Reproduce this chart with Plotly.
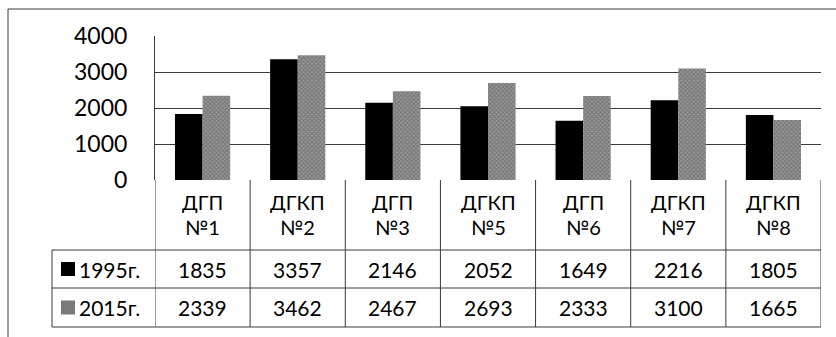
import plotly.graph_objects as go

# Hospitals (categories) and the two year series
names = ["ДГП", "ДГКП", "ДГП", "ДГКП", "ДГП", "ДГКП", "ДГКП"]
numbers = ["№1", "№2", "№3", "№5", "№6", "№7", "№8"]
series_names = ["1995г.", "2015г."]
values_1995 = [1835, 3357, 2146, 2052, 1649, 2216, 1805]
values_2015 = [2339, 3462, 2467, 2693, 2333, 3100, 1665]
y_ticks = [0, 1000, 2000, 3000, 4000]

categories = [f"{n} {k}" for n, k in zip(names, numbers)]

FONT = "Lato, 'Open Sans', Arial, sans-serif"
LINE = "#3a3a3a"
GRAY = "#7a7a7a"
TEXT = "#000000"
TABLE_SIZE = 21
HEADER_SIZE = 20

fig = go.Figure()
fig.add_trace(go.Bar(
    x=categories, y=values_1995, name=series_names[0],
    marker=dict(color="#000000", line=dict(width=0)),
))
fig.add_trace(go.Bar(
    x=categories, y=values_2015, name=series_names[1],
    marker=dict(
        color="#808080",
        line=dict(width=0),
        pattern=dict(shape="x", fgcolor="#4a4a4a", bgcolor="#999999",
                     size=3, solidity=0.5),
    ),
))

# plot area spans 144 px vertically; table rows are placed below it in paper units
H = 144.0
W = 666.0


def py(px_below):
    """paper y for a pixel offset below the zero line"""
    return -px_below / H


def px(px_left):
    """paper x for a pixel offset left of the plot area"""
    return -px_left / W


row_header_bottom = py(70)
row1_bottom = py(108)
row2_bottom = py(147)
legend_left = px(103)

shapes = []
# outer chart frame (left and top edges)
shapes.append(dict(type="line", xref="paper", yref="paper",
                   x0=px(147), x1=px(147), y0=py(-171), y1=py(160),
                   line=dict(color=LINE, width=1)))
shapes.append(dict(type="line", xref="paper", yref="paper",
                   x0=px(147), x1=1.03, y0=py(-171), y1=py(-171),
                   line=dict(color=LINE, width=1)))

# data table grid: column separators at category boundaries
n = len(categories)
for i in range(n + 1):
    shapes.append(dict(type="line", xref="x", yref="paper",
                       x0=i - 0.5, x1=i - 0.5, y0=0, y1=row2_bottom,
                       line=dict(color=LINE, width=1)))
# legend column left edge
shapes.append(dict(type="line", xref="paper", yref="paper",
                   x0=legend_left, x1=legend_left,
                   y0=row_header_bottom, y1=row2_bottom,
                   line=dict(color=LINE, width=1)))
# horizontal rules
for yy in (row_header_bottom, row1_bottom, row2_bottom):
    shapes.append(dict(type="line", xref="paper", yref="paper",
                       x0=legend_left, x1=1, y0=yy, y1=yy,
                       line=dict(color=LINE, width=1)))

# legend keys inside the table
key_colors = ["#000000", GRAY]
row_centers = [(row_header_bottom + row1_bottom) / 2,
               (row1_bottom + row2_bottom) / 2]
for c, yc in zip(key_colors, row_centers):
    shapes.append(dict(type="rect", xref="paper", yref="paper",
                       x0=px(94), x1=px(80),
                       y0=yc - 7 / H, y1=yc + 7 / H,
                       fillcolor=c, line=dict(width=0)))

annotations = []
# category headers, two lines each
for cat, nm, k in zip(categories, names, numbers):
    for txt, yy in ((nm, py(22)), (k, py(47))):
        annotations.append(dict(x=cat, xref="x", y=yy, yref="paper",
                                text=txt, showarrow=False,
                                font=dict(family=FONT, size=HEADER_SIZE, color=TEXT),
                                xanchor="center", yanchor="middle"))
# series labels
for label, yc in zip(series_names, row_centers):
    annotations.append(dict(x=px(78), xref="paper", y=yc, yref="paper",
                            text=label, showarrow=False,
                            font=dict(family=FONT, size=TABLE_SIZE, color=TEXT),
                            xanchor="left", yanchor="middle"))
# values
for vals, yc in zip([values_1995, values_2015], row_centers):
    for cat, v in zip(categories, vals):
        annotations.append(dict(x=cat, xref="x", y=yc, yref="paper",
                                text=str(v), showarrow=False,
                                font=dict(family=FONT, size=TABLE_SIZE, color=TEXT),
                                xanchor="center", yanchor="middle"))

fig.update_layout(
    width=836, height=337,
    margin=dict(l=155, r=15, t=36, b=157),
    paper_bgcolor="white", plot_bgcolor="white",
    showlegend=False,
    bargap=0.42, bargroupgap=0,
    barmode="group",
    shapes=shapes,
    annotations=annotations,
    xaxis=dict(type="category", range=[-0.5, n - 0.5],
               showticklabels=False, showgrid=False, zeroline=False,
               showline=False, fixedrange=True),
    yaxis=dict(range=[0, 4000], tickvals=y_ticks,
               showgrid=True, gridcolor=LINE, gridwidth=1,
               zeroline=False, showline=True, linecolor=LINE, linewidth=1,
               ticks="", ticklabelstandoff=22,
               tickfont=dict(family=FONT, size=23, color=TEXT)),
)

fig.write_html("out.html")
